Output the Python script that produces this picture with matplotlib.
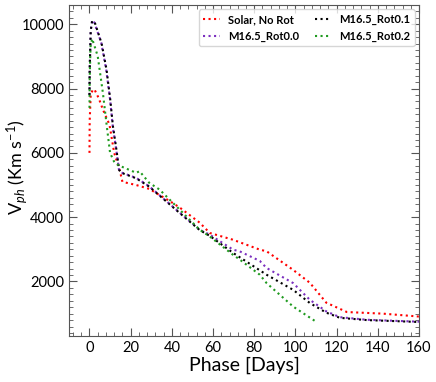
import matplotlib
matplotlib.use("Agg")
import matplotlib.pyplot as plt
from matplotlib.ticker import MultipleLocator

plt.rcParams["font.family"] = ["Lato", "DejaVu Sans"]
plt.rcParams["mathtext.fontset"] = "custom"
plt.rcParams["mathtext.rm"] = "Lato"
plt.rcParams["mathtext.it"] = "Lato:italic"

# photospheric velocity curves
solar_t = [0, 0.1, 0.6, 1.5, 2.4, 4.5, 6.5, 9.7, 12.0, 14.6, 16.0, 22.7, 29.0, 39.0,
           43.8, 53.5, 58.4, 69.6, 82.7, 86.0, 98.8, 107.0, 115.0, 125.0, 142.5, 160.0]
solar_v = [6000, 7000, 7800, 7950, 7975, 7700, 7350, 6880, 6000, 5480, 5100, 5000, 4880, 4500,
           4300, 3830, 3510, 3300, 2990, 2940, 2365, 1960, 1340, 1050, 1000, 910]

rot00_t = [0, 0.1, 0.6, 1.3, 2.4, 5.7, 8.1, 10.0, 11.3, 13.0, 14.3, 15.4, 22.7, 29.0,
           43.8, 53.5, 58.4, 69.7, 73.0, 82.7, 86.0, 98.9, 107.0, 115.0, 121.6, 134.6, 160.0]
rot00_v = [7800, 8600, 9800, 10130, 10050, 9430, 8600, 7660, 6830, 6100, 5480, 5390, 5220, 4960,
           4140, 3610, 3456, 2990, 2936, 2640, 2420, 1950, 1430, 1070, 890, 810, 750]

rot01_t = [0, 0.1, 0.6, 1.3, 2.6, 5.9, 8.3, 10.1, 11.4, 13.1, 14.4, 15.5, 22.7, 29.0,
           43.8, 53.5, 58.4, 69.7, 86.0, 98.9, 107.0, 115.0, 121.6, 134.6, 160.0]
rot01_v = [7800, 8600, 9800, 10100, 10050, 9400, 8580, 7650, 6820, 6090, 5470, 5380, 5210, 4950,
           4130, 3600, 3420, 2890, 2210, 1740, 1330, 1030, 870, 800, 740]

rot02_t = [0, 0.1, 0.5, 1.3, 4.0, 6.5, 8.4, 10.0, 12.2, 14.6, 22.7, 24.3, 29.0, 34.0,
           43.8, 53.5, 58.4, 69.7, 73.0, 82.7, 86.0, 98.9, 110.0]
rot02_v = [7400, 8300, 9300, 9550, 9010, 7870, 6830, 6000, 5690, 5600, 5380, 5430, 5070, 4860,
           4235, 3610, 3400, 2830, 2680, 2210, 1950, 1220, 750]

series = [
    (solar_t, solar_v, "red", "Solar, No Rot"),
    (rot00_t, rot00_v, "#7b2fbf", "M16.5_Rot0.0"),
    (rot01_t, rot01_v, "black", "M16.5_Rot0.1"),
    (rot02_t, rot02_v, "#1f9a1f", "M16.5_Rot0.2"),
]

fig = plt.figure(figsize=(4.36, 3.82), dpi=100)
ax = fig.add_axes([0.158, 0.120, 0.803, 0.867])

for t, v, c, lab in series:
    ax.plot(t, v, ls=":", color=c, lw=1.5, label=lab)

ax.set_xlim(-10, 160)
ax.set_ylim(300, 10600)
ax.xaxis.set_major_locator(MultipleLocator(20))
ax.xaxis.set_minor_locator(MultipleLocator(4))
ax.yaxis.set_major_locator(MultipleLocator(2000))
ax.yaxis.set_minor_locator(MultipleLocator(200))
ax.tick_params(which="both", direction="in", top=True, right=True, labelsize=10.5,
               color="#555555")
ax.tick_params(which="major", length=6)
ax.tick_params(which="minor", length=3)
for s in ax.spines.values():
    s.set_color("#555555")

ax.set_xlabel("Phase [Days]", fontsize=14, labelpad=1)
ax.set_ylabel(r"V$_{ph}$ (Km s$^{-1}$)", fontsize=13)
ax.yaxis.set_label_coords(-0.112, 0.51)

ax.legend(loc="upper right", ncol=2, prop={"weight": "bold", "size": 8},
          handlelength=1.5, columnspacing=1.4, borderaxespad=0.4, handletextpad=0.7,
          labelspacing=0.5)

fig.savefig("out.png", dpi=100)
